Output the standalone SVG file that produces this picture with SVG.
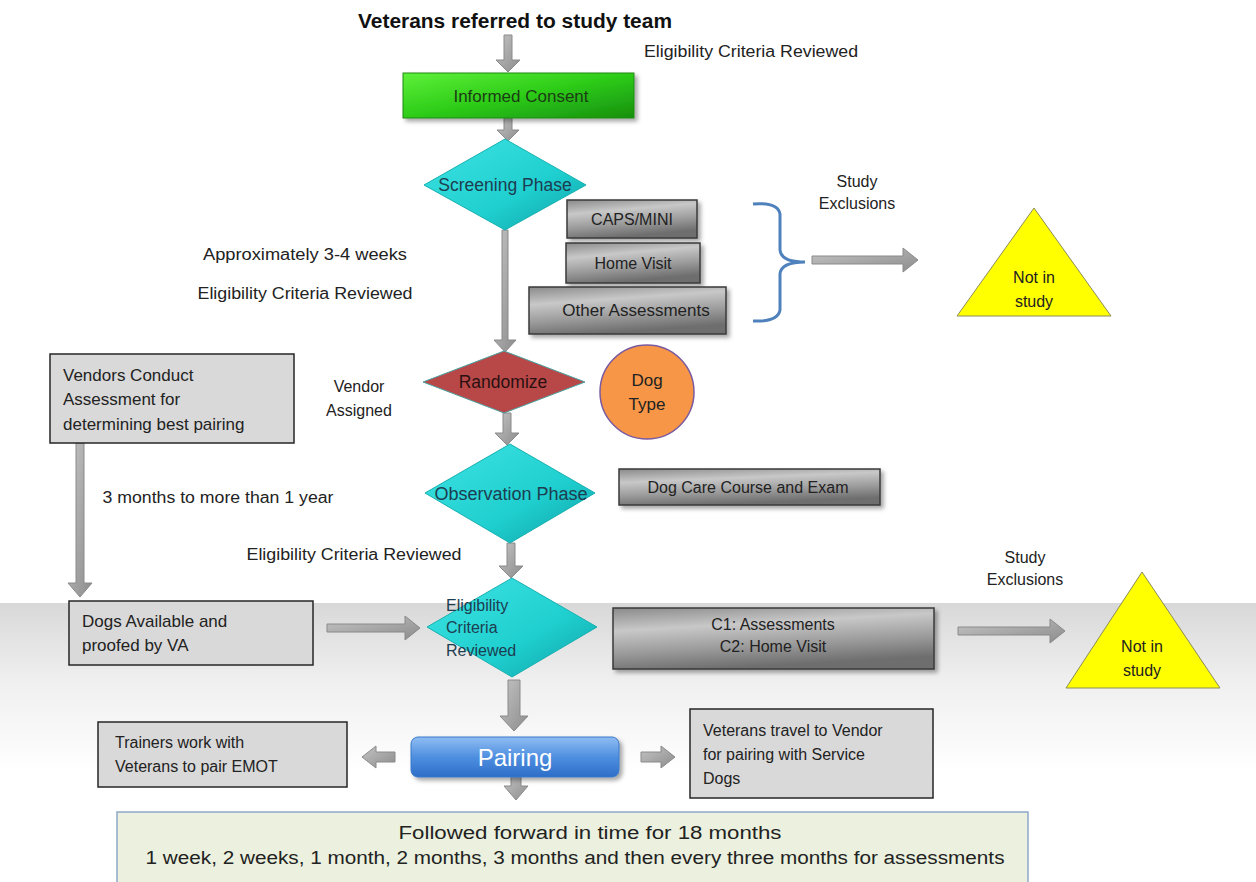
<svg xmlns="http://www.w3.org/2000/svg" width="1256" height="882" viewBox="0 0 1256 882">
<style>
  .t{font-family:"Liberation Sans",Arial,sans-serif;font-size:16px;fill:#222}
  .c{text-anchor:middle}
  .arrow{fill:url(#arrGrad);stroke:#8a8a8a;stroke-width:1}
  .gbox{fill:url(#grayBox);stroke:#3a3a3a;stroke-width:1.5}
  .lbox{fill:#d9d9d9;stroke:#262626;stroke-width:1.5}
  .dia{fill:url(#cyan);stroke:#18b0b0;stroke-width:1}
</style>
<defs>
  <linearGradient id="arrGrad" x1="0" y1="0" x2="1" y2="1">
    <stop offset="0" stop-color="#c4c4c4"/>
    <stop offset="1" stop-color="#8c8c8c"/>
  </linearGradient>
  <linearGradient id="grayBox" x1="0" y1="0" x2="0.3" y2="1">
    <stop offset="0" stop-color="#8a8a8a"/>
    <stop offset="0.35" stop-color="#c8c8c8"/>
    <stop offset="0.7" stop-color="#9a9a9a"/>
    <stop offset="1" stop-color="#6e6e6e"/>
  </linearGradient>
  <linearGradient id="cyan" x1="0" y1="0" x2="1" y2="1">
    <stop offset="0" stop-color="#3fe3e3"/>
    <stop offset="0.6" stop-color="#1fcfcf"/>
    <stop offset="1" stop-color="#0e9fa5"/>
  </linearGradient>
  <linearGradient id="green" x1="0" y1="0" x2="1" y2="1">
    <stop offset="0" stop-color="#5ef03a"/>
    <stop offset="0.5" stop-color="#2dcc18"/>
    <stop offset="1" stop-color="#178f0e"/>
  </linearGradient>
  <linearGradient id="blue" x1="0" y1="0" x2="0" y2="1">
    <stop offset="0" stop-color="#8fbdf2"/>
    <stop offset="0.5" stop-color="#4f8fe0"/>
    <stop offset="1" stop-color="#2d6ec8"/>
  </linearGradient>
  <linearGradient id="band" x1="0" y1="0" x2="0" y2="1">
    <stop offset="0" stop-color="#d8d8d8"/>
    <stop offset="0.45" stop-color="#efefef"/>
    <stop offset="1" stop-color="#ffffff"/>
  </linearGradient>
  <filter id="sh" x="-10%" y="-20%" width="130%" height="150%">
    <feDropShadow dx="3" dy="3" stdDeviation="2" flood-color="#000" flood-opacity="0.35"/>
  </filter>
</defs>

<rect x="0" y="603" width="1256" height="170" fill="url(#band)"/>

<g id="title">
  <text x="515" y="28" class="t c" style="font-size:20px;font-weight:bold;fill:#111" textLength="314" lengthAdjust="spacingAndGlyphs">Veterans referred to study team</text>
</g>

<g id="labels">
  <text x="751" y="57" class="t c" textLength="214" lengthAdjust="spacingAndGlyphs">Eligibility Criteria Reviewed</text>
  <text x="305" y="260" class="t c" textLength="204" lengthAdjust="spacingAndGlyphs">Approximately 3-4 weeks</text>
  <text x="305" y="299" class="t c" textLength="215" lengthAdjust="spacingAndGlyphs">Eligibility Criteria Reviewed</text>
  <text x="857" y="187" class="t c">Study</text>
  <text x="857" y="209" class="t c">Exclusions</text>
  <text x="359" y="392" class="t c">Vendor</text>
  <text x="359" y="416" class="t c">Assigned</text>
  <text x="218" y="503" class="t c" textLength="231" lengthAdjust="spacingAndGlyphs">3 months to more than 1 year</text>
  <text x="354" y="560" class="t c" textLength="215" lengthAdjust="spacingAndGlyphs">Eligibility Criteria Reviewed</text>
  <text x="1025" y="563" class="t c">Study</text>
  <text x="1025" y="585" class="t c">Exclusions</text>
</g>

<g id="connectors">
  <path class="arrow" d="M504 35 H512 V60 H520 L508 72 L496 60 H504 Z"/>
  <path class="arrow" d="M504 118 H512 V130 H519 L508 141 L497 130 H504 Z"/>
  <path class="arrow" d="M502 230 H508 V340 H516 L505 352 L494 340 H502 Z"/>
  <path class="arrow" d="M503 413 H511 V433 H519 L507 445 L495 433 H503 Z"/>
  <path class="arrow" d="M507 543 H515 V566 H523 L511 578 L499 566 H507 Z"/>
  <path class="arrow" d="M508 680 H520 V716 H528 L514 731 L500 716 H508 Z"/>
  <path class="arrow" d="M511 777 H521 V786 H528 L516 800 L504 786 H511 Z"/>
  <path class="arrow" d="M76 443 H84 V583 H92 L80 597 L68 583 H76 Z"/>
  <path class="arrow" d="M812 256 H903 V248 L918 260 L903 272 V264 H812 Z"/>
  <path class="arrow" d="M327 624 H405 V616 L420 628 L405 640 V632 H327 Z"/>
  <path class="arrow" d="M958 627 H1050 V619 L1065 631 L1050 643 V635 H958 Z"/>
  <path class="arrow" d="M395 752 H376 V746 L362 757 L376 768 V762 H395 Z"/>
  <path class="arrow" d="M641 752 H661 V746 L675 757 L661 768 V762 H641 Z"/>
  <path d="M753 204 Q778 202 780 214 L780 250 Q781 262 805 262 Q781 262 780 274 L780 310 Q778 322 753 321" fill="none" stroke="#4f81bd" stroke-width="3"/>
</g>

<g id="informed-consent">
  <rect x="403" y="73" width="231" height="45" fill="url(#green)" stroke="#1e8a12" stroke-width="1" filter="url(#sh)"/>
  <text x="521" y="102" class="t c" style="fill:#1b3d14;font-size:17px">Informed  Consent</text>
</g>

<g id="screening">
  <polygon class="dia" points="505,139 586,185 505,230 424,185"/>
  <text x="505" y="191" class="t c" style="fill:#1d3d50;font-size:17.5px">Screening Phase</text>
</g>

<g id="caps">
  <rect x="567" y="200" width="130" height="38" class="gbox" filter="url(#sh)"/>
  <text x="632" y="225" class="t c">CAPS/MINI</text>
</g>
<g id="home-visit">
  <rect x="566" y="243" width="134" height="40" class="gbox" filter="url(#sh)"/>
  <text x="633" y="269" class="t c">Home Visit</text>
</g>
<g id="other-assessments">
  <rect x="529" y="287" width="197" height="47" class="gbox" filter="url(#sh)"/>
  <text x="636" y="316" class="t c" style="font-size:17px">Other Assessments</text>
</g>

<g id="not-in-study-1">
  <polygon points="1034,208 1111,316 957,316" fill="#ffff00" stroke="#8c8c5a" stroke-width="1"/>
  <text x="1034" y="283" class="t c">Not in</text>
  <text x="1034" y="307" class="t c">study</text>
</g>

<g id="vendors-conduct">
  <rect x="50" y="354" width="244" height="89" class="lbox"/>
  <text x="63" y="381" class="t" style="font-size:17px">Vendors  Conduct</text>
  <text x="63" y="405" class="t" style="font-size:17px">Assessment for</text>
  <text x="63" y="430" class="t" style="font-size:17px">determining best pairing</text>
</g>

<g id="randomize">
  <polygon points="504,351 585,382 504,413 423,382" fill="#b84848" stroke="#4aa0a0" stroke-width="1"/>
  <text x="503" y="388" class="t c" style="fill:#2a1010;font-size:17.5px">Randomize</text>
</g>

<g id="dog-type">
  <circle cx="647" cy="392" r="47" fill="#f79646" stroke="#7a5aa0" stroke-width="1.5"/>
  <text x="647" y="386" class="t c" style="font-size:17px">Dog</text>
  <text x="647" y="410" class="t c" style="font-size:17px">Type</text>
</g>

<g id="observation">
  <polygon class="dia" points="510,444 595,493 510,543 425,493"/>
  <text x="511" y="500" class="t c" style="fill:#1d3d50;font-size:18px">Observation Phase</text>
</g>

<g id="dog-care">
  <rect x="619" y="469" width="261" height="36" class="gbox" filter="url(#sh)"/>
  <text x="748" y="493" class="t c">Dog Care Course and Exam</text>
</g>

<g id="dogs-available">
  <rect x="69" y="601" width="244" height="64" class="lbox"/>
  <text x="82" y="627" class="t" style="font-size:17px">Dogs Available and</text>
  <text x="82" y="651" class="t" style="font-size:17px">proofed by VA</text>
</g>

<g id="eligibility">
  <polygon class="dia" points="512,578 597,627 512,677 427,627"/>
  <text x="446" y="611" class="t" style="fill:#1d3d50">Eligibility</text>
  <text x="446" y="633" class="t" style="fill:#1d3d50">Criteria</text>
  <text x="446" y="656" class="t" style="fill:#1d3d50">Reviewed</text>
</g>

<g id="c1c2">
  <rect x="613" y="608" width="321" height="61" class="gbox" filter="url(#sh)"/>
  <text x="773" y="630" class="t c">C1:  Assessments</text>
  <text x="773" y="652" class="t c">C2: Home Visit</text>
</g>

<g id="not-in-study-2">
  <polygon points="1142,572 1220,688 1066,688" fill="#ffff00" stroke="#8c8c5a" stroke-width="1"/>
  <text x="1142" y="652" class="t c">Not in</text>
  <text x="1142" y="676" class="t c">study</text>
</g>

<g id="pairing">
  <rect x="411" y="737" width="208" height="40" rx="7" fill="url(#blue)" stroke="#3a78c8" stroke-width="1" filter="url(#sh)"/>
  <text x="515" y="766" class="t c" style="font-size:24px;fill:#ffffff">Pairing</text>
</g>

<g id="trainers">
  <rect x="98" y="722" width="249" height="65" class="lbox"/>
  <text x="115" y="748" class="t" style="font-size:16px">Trainers work with</text>
  <text x="115" y="772" class="t" style="font-size:16px">Veterans to pair EMOT</text>
</g>

<g id="veterans-travel">
  <rect x="690" y="709" width="243" height="89" class="lbox"/>
  <text x="703" y="736" class="t" style="font-size:16px">Veterans travel to Vendor</text>
  <text x="703" y="760" class="t" style="font-size:16px">for pairing with Service</text>
  <text x="703" y="784" class="t" style="font-size:16px">Dogs</text>
</g>

<g id="followed">
  <rect x="117" y="812" width="911" height="72" fill="#ebf1de" stroke="#8ea8c8" stroke-width="1.5"/>
  <text x="590" y="839" class="t c" style="font-size:18px" textLength="383" lengthAdjust="spacingAndGlyphs">Followed forward in time for 18 months</text>
  <text x="575" y="864" class="t c" style="font-size:18px" textLength="859" lengthAdjust="spacingAndGlyphs">1 week, 2 weeks, 1 month,  2 months, 3 months and then every three months for assessments</text>
</g>
</svg>
